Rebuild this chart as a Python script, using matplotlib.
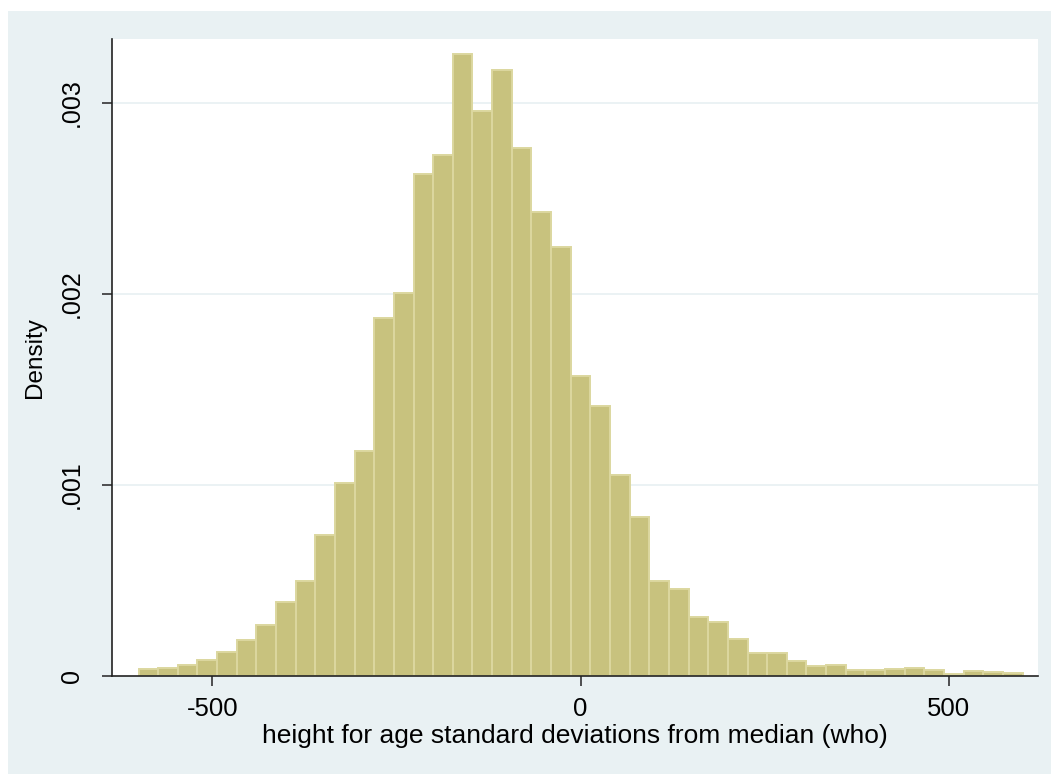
import matplotlib

matplotlib.use("Agg")
import matplotlib.pyplot as plt
from matplotlib.patches import Rectangle
import numpy as np

plt.rcParams["font.family"] = ["Liberation Sans", "DejaVu Sans"]

# histogram: 45 bins from -600 to 600, heights
bin_start = -600
bin_end = 600
densities = [
    0.000038, 0.000043, 0.000059, 0.000086, 0.000125, 0.000186, 0.000266, 0.000390,
    0.000496, 0.000738, 0.001009, 0.001180, 0.001876, 0.002007, 0.002630, 0.002727,
    0.003254, 0.002957, 0.003175, 0.002765, 0.002428, 0.002245, 0.001570, 0.001413,
    0.001051, 0.000830, 0.000496, 0.000456, 0.000311, 0.000282, 0.000195, 0.000118,
    0.000118, 0.000081, 0.000051, 0.000055, 0.000034, 0.000029, 0.000039, 0.000043,
    0.000034, 0.000013, 0.000024, 0.000020, 0.000017,
]
x_ticks = [-500, 0, 500]
y_ticks = [0, 0.001, 0.002, 0.003]
y_tick_labels = ["0", ".001", ".002", ".003"]

bg = "#e9f1f3"
bar_fill = "#c8c27e"
bar_edge = "#dcd79f"

fig = plt.figure(figsize=(10.51, 7.74), dpi=100, facecolor="white")
fig.patches.append(
    Rectangle((8 / 1051, 0), 1, (774 - 11) / 774, transform=fig.transFigure,
              facecolor=bg, edgecolor="none", zorder=-10)
)
ax = fig.add_axes([112 / 1051, 98 / 774, 926 / 1051, 637 / 774])
ax.set_facecolor("white")

edges = np.linspace(bin_start, bin_end, len(densities) + 1)
ax.bar(edges[:-1], densities, width=np.diff(edges), align="edge",
       color=bar_fill, edgecolor=bar_edge, linewidth=1.4, zorder=2)

ax.set_xlim(-636, 621)
ax.set_ylim(0, 0.003335)

for y in y_ticks[1:]:
    ax.axhline(y, color=bg, linewidth=1.3, zorder=1)

ax.set_xticks(x_ticks)
ax.set_xticklabels([str(v) for v in x_ticks], fontsize=18.5)
ax.set_yticks(y_ticks)
ax.set_yticklabels(y_tick_labels, fontsize=18, rotation=90, va="center")
ax.tick_params(axis="x", length=7, width=1.2, color="#333333", pad=8)
ax.tick_params(axis="y", length=7, width=1.2, color="#333333", pad=13)

for side in ["top", "right"]:
    ax.spines[side].set_visible(False)
for side in ["left", "bottom"]:
    ax.spines[side].set_color("#222222")
    ax.spines[side].set_linewidth(1.2)

ax.set_xlabel("height for age standard deviations from median (who)", fontsize=19, labelpad=2)
ax.set_ylabel("Density", fontsize=17.5, labelpad=10)

fig.savefig("out.png", dpi=100, facecolor=fig.get_facecolor())
